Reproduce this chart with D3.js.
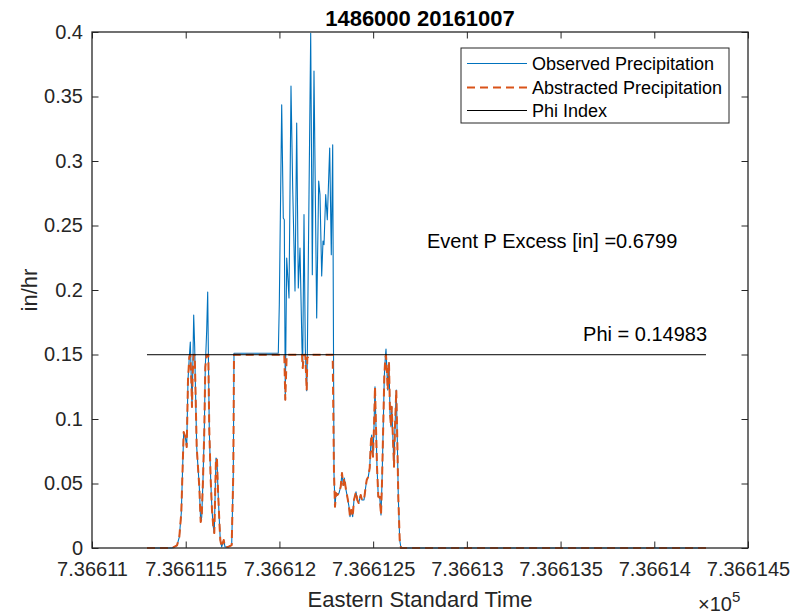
<!DOCTYPE html>
<html>
<head>
<meta charset="utf-8">
<script src="https://cdn.jsdelivr.net/npm/d3@7"></script>
<style>
  html, body { margin: 0; padding: 0; background: #fff; }
  svg { display: block; font-family: "Liberation Sans", Arial, Helvetica, sans-serif; }
</style>
</head>
<body>
<svg id="chart" width="799" height="615"></svg>
<script>
// ---- Data (MATLAB datenum time, in/hr) ----
const chartTitle = "1486000 20161007";
const xLabel = "Eastern Standard Time";
const yLabel = "in/hr";
const seriesNames = ["Observed Precipitation", "Abstracted Precipitation", "Phi Index"];

const xTickValues = [736611, 736611.5, 736612, 736612.5, 736613, 736613.5, 736614, 736614.5];
const xTickLabels = ["7.36611", "7.366115", "7.36612", "7.366125", "7.36613", "7.366135", "7.36614", "7.366145"];
const yTickValues = [0, 0.05, 0.1, 0.15, 0.2, 0.25, 0.3, 0.35, 0.4];
const yTickLabels = ["0", "0.05", "0.1", "0.15", "0.2", "0.25", "0.3", "0.35", "0.4"];

const time = [
  736611.2934, 736611.4268, 736611.4535, 736611.4658, 736611.4764, 736611.4892, 736611.4978, 736611.5053,
  736611.5122, 736611.5191, 736611.5245, 736611.5298, 736611.5335, 736611.5373, 736611.5426, 736611.5479,
  736611.5511, 736611.5586, 736611.5655, 736611.5725, 736611.5799, 736611.5853, 736611.5922, 736611.5992,
  736611.6045, 736611.6120, 736611.6173, 736611.6205, 736611.6258, 736611.6333, 736611.6402, 736611.6472,
  736611.6525, 736611.6578, 736611.6616, 736611.6669, 736611.6722, 736611.6792, 736611.6845, 736611.6920,
  736611.7027, 736611.7096, 736611.7272, 736611.7453, 736611.7539, 736611.7576, 736611.9940, 736611.9993,
  736612.0121, 736612.0206, 736612.0260, 736612.0313, 736612.0388, 736612.0511, 736612.0617, 736612.0708,
  736612.0831, 736612.0921, 736612.1007, 736612.1097, 736612.1204, 736612.1241, 736612.1311, 736612.1380,
  736612.1455, 736612.1487, 736612.1668, 736612.1754, 736612.1844, 736612.1988, 736612.2095, 736612.2164,
  736612.2255, 736612.2325, 736612.2378, 736612.2469, 736612.2554, 736612.2682, 736612.2767, 736612.2842,
  736612.2911, 736612.2965, 736612.3018, 736612.3088, 736612.3178, 736612.3269, 736612.3338, 736612.3408,
  736612.3461, 736612.3552, 736612.3621, 736612.3712, 736612.3765, 736612.3834, 736612.3909, 736612.3978,
  736612.4085, 736612.4155, 736612.4229, 736612.4336, 736612.4405, 736612.4512, 736612.4581, 736612.4656,
  736612.4741, 736612.4816, 736612.4885, 736612.4923, 736612.4955, 736612.4992, 736612.5046, 736612.5099,
  736612.5152, 736612.5206, 736612.5275, 736612.5350, 736612.5419, 736612.5472, 736612.5542, 736612.5595,
  736612.5648, 736612.5686, 736612.5739, 736612.5776, 736612.5846, 736612.5899, 736612.5953, 736612.5990,
  736612.6059, 736612.6113, 736612.6166, 736612.6235, 736612.6289, 736612.6342, 736612.6417, 736612.6486,
  736614.2759
];

const observed = [
  0, 0, 0.002, 0.0085, 0.0271, 0.0899, 0.0860, 0.0783,
  0.1302, 0.1481, 0.1597, 0.1302, 0.1093, 0.1357, 0.1806, 0.1558,
  0.1302, 0.0783, 0.0628, 0.0473, 0.0202, 0.0240, 0.0527, 0.0915,
  0.1403, 0.1690, 0.1984, 0.1558, 0.0915, 0.0527, 0.0295, 0.0163,
  0.0116, 0.0473, 0.0698, 0.0682, 0.0450, 0.0217, 0.0062, 0.0008,
  0.0062, 0.0008, 0.0008, 0.0023, 0.0581, 0.1510, 0.1510, 0.1886,
  0.3436, 0.2558, 0.2545, 0.1150, 0.2248, 0.1938, 0.3581, 0.2791,
  0.1992, 0.3295, 0.2016, 0.2326, 0.1550, 0.1395, 0.2584, 0.1550,
  0.1220, 0.1473, 0.3990, 0.2119, 0.3698, 0.1783, 0.2845, 0.2739,
  0.2109, 0.2380, 0.2351, 0.2739, 0.2545, 0.3101, 0.2274, 0.3126,
  0.0581, 0.0320, 0.0426, 0.0411, 0.0426, 0.0475, 0.0581, 0.0488,
  0.0543, 0.0450, 0.0398, 0.0320, 0.0243, 0.0295, 0.0243, 0.0372,
  0.0436, 0.0372, 0.0349, 0.0411, 0.0372, 0.0372, 0.0450, 0.0527,
  0.0553, 0.0620, 0.0837, 0.0876, 0.0760, 0.0708, 0.0940, 0.1250,
  0.0940, 0.0630, 0.0398, 0.0398, 0.0256, 0.0504, 0.0969, 0.1328,
  0.1473, 0.1543, 0.1357, 0.1225, 0.1434, 0.1047, 0.0940, 0.1095,
  0.0837, 0.0630, 0.0940, 0.1225, 0.0837, 0.0398, 0.0062, 0,
  0
];

const abstracted = [
  0, 0, 0.002, 0.0085, 0.0271, 0.0899, 0.0860, 0.0783,
  0.1302, 0.1481, 0.14983, 0.1302, 0.1093, 0.1357, 0.14983, 0.14983,
  0.1302, 0.0783, 0.0628, 0.0473, 0.0202, 0.0240, 0.0527, 0.0915,
  0.1403, 0.14983, 0.14983, 0.14983, 0.0915, 0.0527, 0.0295, 0.0163,
  0.0116, 0.0473, 0.0698, 0.0682, 0.0450, 0.0217, 0.0062, 0.0008,
  0.0062, 0.0008, 0.0008, 0.0023, 0.0581, 0.14983, 0.14983, 0.14983,
  0.14983, 0.14983, 0.14983, 0.1150, 0.14983, 0.14983, 0.14983, 0.14983,
  0.14983, 0.14983, 0.14983, 0.14983, 0.14983, 0.1395, 0.14983, 0.14983,
  0.1220, 0.1473, 0.14983, 0.14983, 0.14983, 0.14983, 0.14983, 0.14983,
  0.14983, 0.14983, 0.14983, 0.14983, 0.14983, 0.14983, 0.14983, 0.14983,
  0.0581, 0.0320, 0.0426, 0.0411, 0.0426, 0.0475, 0.0581, 0.0488,
  0.0543, 0.0450, 0.0398, 0.0320, 0.0243, 0.0295, 0.0243, 0.0372,
  0.0436, 0.0372, 0.0349, 0.0411, 0.0372, 0.0372, 0.0450, 0.0527,
  0.0553, 0.0620, 0.0837, 0.0876, 0.0760, 0.0708, 0.0940, 0.1250,
  0.0940, 0.0630, 0.0398, 0.0398, 0.0256, 0.0504, 0.0969, 0.1328,
  0.1473, 0.14983, 0.1357, 0.1225, 0.1434, 0.1047, 0.0940, 0.1095,
  0.0837, 0.0630, 0.0940, 0.1225, 0.0837, 0.0398, 0.0062, 0,
  0
];

const phiTime = [736611.2934, 736614.2759];
const phiValue = [0.14983, 0.14983];

const excessText = "Event P Excess [in] =0.6799";
const excessPos = [736612.787, 0.2325];
const phiText = "Phi = 0.14983";
const phiTextPos = [736613.62, 0.1605];

// ---- Layout ----
const svg = d3.select("#chart");
const plot = { left: 92, right: 748, top: 32, bottom: 548 };
const axisColor = "#262626";
const colors = ["#0072BD", "#D95319", "#000000"];

const x = d3.scaleLinear().domain([736611, 736614.5]).range([plot.left, plot.right]);
const y = d3.scaleLinear().domain([0, 0.4]).range([plot.bottom, plot.top]);

svg.append("rect").attr("width", 799).attr("height", 615).attr("fill", "#fff");

const lineGen = d3.line().x(d => x(d[0])).y(d => y(d[1]));

svg.append("defs").append("clipPath").attr("id", "clip")
  .append("rect").attr("x", plot.left).attr("y", plot.top - 2)
  .attr("width", plot.right - plot.left).attr("height", plot.bottom - plot.top + 3);

const g = svg.append("g").attr("clip-path", "url(#clip)");

g.append("path")
  .datum(time.map((t, i) => [t, observed[i]]))
  .attr("fill", "none").attr("stroke", colors[0]).attr("stroke-width", 1.1)
  .attr("stroke-linejoin", "round")
  .attr("d", lineGen);

g.append("path")
  .datum(time.map((t, i) => [t, abstracted[i]]))
  .attr("fill", "none").attr("stroke", colors[1]).attr("stroke-width", 2)
  .attr("stroke-dasharray", "8,5")
  .attr("stroke-linejoin", "round")
  .attr("d", lineGen);

g.append("path")
  .datum(phiTime.map((t, i) => [t, phiValue[i]]))
  .attr("fill", "none").attr("stroke", colors[2]).attr("stroke-width", 1)
  .attr("d", lineGen);

// ---- Axes ----
const tickLen = 6.5;
const fmtX = (d, i) => xTickLabels[i];
const fmtY = (d, i) => yTickLabels[i];

const xAxisB = svg.append("g").attr("transform", `translate(0,${plot.bottom})`)
  .call(d3.axisBottom(x).tickValues(xTickValues).tickFormat(fmtX)
    .tickSizeInner(-tickLen).tickSizeOuter(0).tickPadding(14));
const xAxisT = svg.append("g").attr("transform", `translate(0,${plot.top})`)
  .call(d3.axisTop(x).tickValues(xTickValues).tickFormat("")
    .tickSizeInner(-tickLen).tickSizeOuter(0));
const yAxisL = svg.append("g").attr("transform", `translate(${plot.left},0)`)
  .call(d3.axisLeft(y).tickValues(yTickValues).tickFormat(fmtY)
    .tickSizeInner(-tickLen).tickSizeOuter(0).tickPadding(9));
const yAxisR = svg.append("g").attr("transform", `translate(${plot.right},0)`)
  .call(d3.axisRight(y).tickValues(yTickValues).tickFormat("")
    .tickSizeInner(-tickLen).tickSizeOuter(0));

[xAxisB, xAxisT, yAxisL, yAxisR].forEach(a => {
  a.select(".domain").remove();
  a.selectAll(".tick line").attr("stroke", axisColor).attr("stroke-width", 1);
  a.selectAll(".tick text").attr("fill", axisColor).style("font-size", "20px")
    .style("font-family", "'Liberation Sans', Arial, sans-serif");
});

svg.append("rect")
  .attr("x", plot.left).attr("y", plot.top)
  .attr("width", plot.right - plot.left).attr("height", plot.bottom - plot.top)
  .attr("fill", "none").attr("stroke", axisColor).attr("stroke-width", 1.3);

// exponent label
const expo = svg.append("text").attr("x", 698).attr("y", 611)
  .attr("fill", axisColor).style("font-size", "20px");
expo.append("tspan").text("\u00D710");
expo.append("tspan").attr("dy", -9).style("font-size", "15px").text("5");

// ---- Titles and labels ----
svg.append("text").attr("x", (plot.left + plot.right) / 2).attr("y", 26)
  .attr("text-anchor", "middle").attr("font-weight", "bold")
  .style("font-size", "22px").attr("fill", "#000").text(chartTitle);

svg.append("text").attr("x", (plot.left + plot.right) / 2).attr("y", 607)
  .attr("text-anchor", "middle").style("font-size", "22px")
  .attr("fill", axisColor).text(xLabel);

svg.append("text").attr("transform", `translate(37,${(plot.top + plot.bottom) / 2}) rotate(-90)`)
  .attr("text-anchor", "middle").style("font-size", "22px")
  .attr("fill", axisColor).text(yLabel);

// ---- Annotations ----
svg.append("text").attr("x", x(excessPos[0])).attr("y", y(excessPos[1]))
  .style("font-size", "20px").attr("fill", "#000").text(excessText);
svg.append("text").attr("x", x(phiTextPos[0])).attr("y", y(phiTextPos[1]))
  .style("font-size", "20px").attr("fill", "#000").text(phiText);

// ---- Legend ----
const leg = svg.append("g");
leg.append("rect").attr("x", 461).attr("y", 48).attr("width", 268).attr("height", 75)
  .attr("fill", "#fff").attr("stroke", axisColor).attr("stroke-width", 1);
const rowsY = [63.5, 87.5, 110.5];
seriesNames.forEach((name, i) => {
  const ln = leg.append("line").attr("x1", 467).attr("x2", 527)
    .attr("y1", rowsY[i]).attr("y2", rowsY[i])
    .attr("stroke", colors[i]).attr("stroke-width", i === 1 ? 2 : 1);
  if (i === 1) ln.attr("stroke-dasharray", "8,5");
  leg.append("text").attr("x", 532).attr("y", rowsY[i]).attr("dy", "0.35em")
    .style("font-size", "18px").attr("fill", "#000").text(name);
});
</script>
</body>
</html>
